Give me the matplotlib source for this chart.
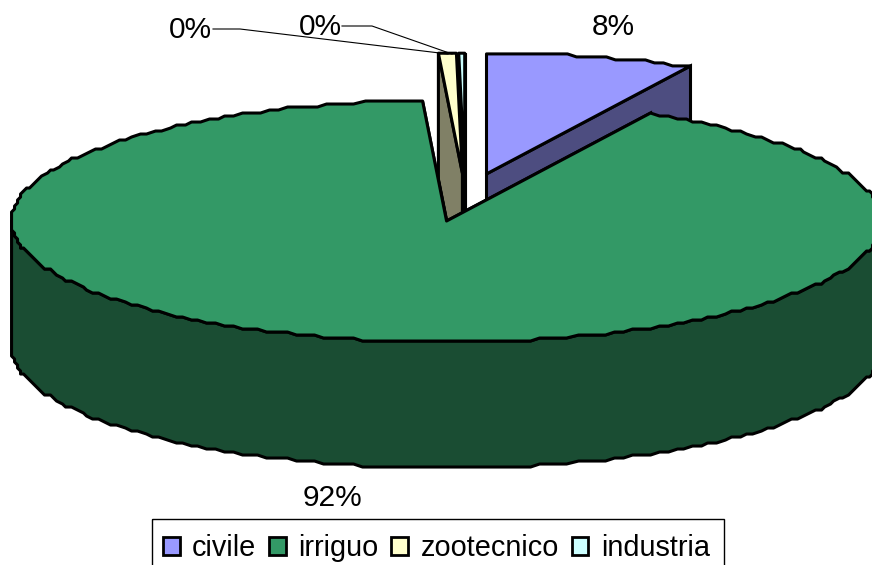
import numpy as np
import matplotlib
matplotlib.use('Agg')
import matplotlib.pyplot as plt
from matplotlib.patches import Patch, Rectangle

plt.rcParams['font.family'] = ['Liberation Sans', 'DejaVu Sans']

# water use shares, clockwise from 12 o'clock
categories = ['civile', 'irriguo', 'zootecnico', 'industria']
values = [7.8, 91.35, 0.6, 0.25]
labels = ['8%', '92%', '0%', '0%']
top_colors = ['#9999FF', '#339966', '#FFFFCC', '#CCFFFF']
side_colors = ['#4D4D80', '#1A4D33', '#808066', '#668080']

# pie geometry in pixels
cx, cy = 465.4, 197.4
rx, ry = 435, 121
depth = 126
explode = 0.2
line = 2.2

fig = plt.figure(figsize=(8.72, 5.65), dpi=100)
ax = fig.add_axes([0, 0, 1, 1])
ax.set_xlim(0, 872)
ax.set_ylim(565, 0)
ax.axis('off')


def rim(t):
    # angle in radians clockwise from top, rounded to mimic the coarse outline
    x = rx * np.sin(t)
    y = -ry * np.cos(t)
    return np.round(x / 3) * 3, np.round(y / 3) * 3


edges = np.radians(np.cumsum([0] + values) / sum(values) * 360)
wedges = []
for i in range(len(values)):
    t0, t1 = edges[i], edges[i + 1]
    mid = (t0 + t1) / 2
    ox = cx + explode * rx * np.sin(mid)
    oy = cy - explode * ry * np.cos(mid)
    n = max(2, int(np.degrees(t1 - t0) / 1.3) + 1)
    ts = np.linspace(t0, t1, n)
    xs, ys = rim(ts)
    wedges.append((ox, oy, ts, xs + ox, ys + oy))

# back to front: small slices, civile, then the big one
for i in [3, 2, 0, 1]:
    ox, oy, ts, xs, ys = wedges[i]
    # radial faces, the far one first
    for j in ([0, -1] if i == 0 else [-1, 0]):
        ax.fill([ox, xs[j], xs[j], ox], [oy, ys[j], ys[j] + depth, oy + depth],
                facecolor=side_colors[i], edgecolor='black', lw=line, joinstyle='miter')
    # outer wall, only the part facing the viewer
    front = (ts > np.pi / 2) & (ts < 3 * np.pi / 2)
    if front.any():
        fx, fy = xs[front], ys[front]
        ax.fill(np.r_[fx, fx[::-1]], np.r_[fy, fy[::-1] + depth],
                facecolor=side_colors[i], edgecolor='black', lw=line, joinstyle='round')
    ax.fill(np.r_[ox, xs], np.r_[oy, ys], facecolor=top_colors[i], edgecolor='black',
            lw=line, joinstyle='round')

# leader lines for the two small slices
ax.plot([213, 240, 448], [29, 29, 54], color='black', lw=0.8)
ax.plot([342, 372, 452], [26, 26, 54], color='black', lw=0.8)

ax.text(613, 27, labels[0], fontsize=21.5, ha='center', va='center')
ax.text(332, 498.5, labels[1], fontsize=21.5, ha='center', va='center')
ax.text(190, 29.5, labels[2], fontsize=21.5, ha='center', va='center')
ax.text(320, 27, labels[3], fontsize=21.5, ha='center', va='center')

# legend box runs off the bottom of the figure
ax.add_patch(Rectangle((152, 519), 572, 60, fill=False, edgecolor='black', lw=1))
handles = [Patch(facecolor=c, edgecolor='black', lw=2) for c in top_colors]
leg = ax.legend(handles, categories, loc='upper left', bbox_to_anchor=(152, 523.5),
                bbox_transform=ax.transData, ncol=4, fontsize=20.8, frameon=False,
                borderaxespad=0, handlelength=0.58, handleheight=0.58,
                handletextpad=0.43, columnspacing=0.44, borderpad=0.38)

fig.savefig('out.png', dpi=100)
plt.close(fig)
